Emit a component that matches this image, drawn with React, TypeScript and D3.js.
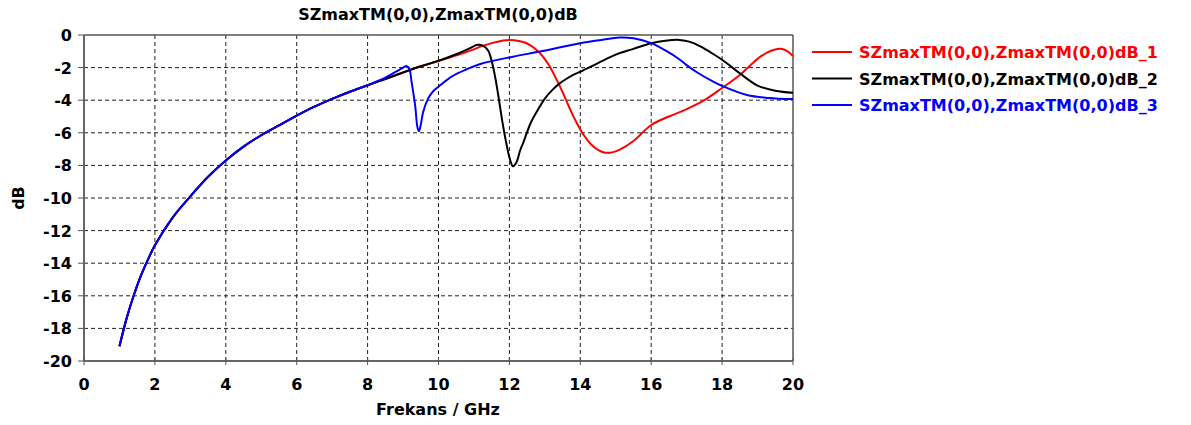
import React from 'react';
import * as d3 from 'd3';

// shared low-frequency part, all three traces sit on top of each other here
const baseFreq = [1.0, 1.2, 1.4, 1.6, 1.8, 2.0, 2.5, 3.0, 3.5, 4.0, 4.5, 5.0, 5.5, 6.0, 6.5, 7.0, 7.5, 8.0];
const baseDb = [-19.1, -17.4, -16.0, -14.8, -13.8, -12.9, -11.2, -9.9, -8.7, -7.7, -6.85, -6.15, -5.55, -4.95, -4.4, -3.92, -3.48, -3.08];

const freq1 = [8.5, 9.0, 9.5, 10.0, 10.5, 11.0, 11.2, 11.5, 11.8, 12.0, 12.3, 12.5, 12.7, 12.9, 13.1, 13.3, 13.5, 13.7, 13.9, 14.1, 14.3, 14.5, 14.7, 14.9, 15.1, 15.5, 16.0, 16.5, 17.0, 17.5, 18.0, 18.5, 18.8, 19.1, 19.4, 19.65, 19.85, 20.0];
const db1 = [-2.7, -2.3, -1.92, -1.6, -1.25, -0.88, -0.7, -0.5, -0.35, -0.3, -0.38, -0.52, -0.8, -1.2, -1.8, -2.6, -3.5, -4.5, -5.4, -6.15, -6.7, -7.05, -7.22, -7.2, -7.05, -6.5, -5.52, -5.0, -4.55, -4.0, -3.25, -2.45, -1.85, -1.3, -0.95, -0.85, -1.0, -1.3];

const freq2 = [8.5, 9.0, 9.5, 10.0, 10.5, 10.8, 11.0, 11.1, 11.25, 11.4, 11.5, 11.6, 11.7, 11.8, 11.9, 12.0, 12.1, 12.2, 12.3, 12.4, 12.6, 12.8, 13.0, 13.2, 13.4, 13.6, 13.8, 14.0, 14.5, 15.0, 15.5, 16.0, 16.4, 16.8, 17.1, 17.4, 17.7, 18.0, 18.5, 19.0, 19.5, 20.0];
const db2 = [-2.7, -2.3, -1.92, -1.58, -1.18, -0.9, -0.68, -0.6, -0.65, -0.95, -1.6, -2.6, -3.9, -5.3, -6.5, -7.5, -8.05, -7.8, -7.1, -6.55, -5.4, -4.6, -3.9, -3.4, -3.0, -2.7, -2.45, -2.25, -1.72, -1.2, -0.85, -0.51, -0.35, -0.3, -0.42, -0.72, -1.1, -1.52, -2.35, -3.1, -3.42, -3.55];

const freq3 = [8.5, 8.8, 9.0, 9.1, 9.18, 9.24, 9.34, 9.41, 9.45, 9.5, 9.57, 9.71, 9.85, 10.0, 10.37, 10.8, 11.2, 12.1, 12.9, 14.0, 14.6, 15.1, 15.5, 16.0, 16.4, 16.8, 17.0, 17.3, 17.7, 18.0, 18.7, 19.3, 20.0];
const db3 = [-2.62, -2.25, -2.0, -1.9, -2.1, -2.86, -4.3, -5.7, -5.9, -5.5, -4.7, -3.89, -3.45, -3.17, -2.55, -2.1, -1.76, -1.33, -1.0, -0.5, -0.3, -0.15, -0.2, -0.5, -0.95, -1.5, -1.85, -2.3, -2.8, -3.12, -3.68, -3.86, -3.93];

const seriesNames = ['SZmaxTM(0,0),ZmaxTM(0,0)dB_1', 'SZmaxTM(0,0),ZmaxTM(0,0)dB_2', 'SZmaxTM(0,0),ZmaxTM(0,0)dB_3'];
const seriesColors = ['#ff0000', '#000000', '#0000ff'];
const xTicks = [0, 2, 4, 6, 8, 10, 12, 14, 16, 18, 20];
const yTicks = [0, -2, -4, -6, -8, -10, -12, -14, -16, -18, -20];

const W = 1191;
const H = 425;
const left = 84, right = 793, top = 35, bottom = 361;
const font = '"DejaVu Sans", Verdana, sans-serif';

type Pt = { f: number; v: number };
const toPts = (fs: number[], vs: number[]): Pt[] => fs.map((f, i) => ({ f, v: vs[i] }));

const App: React.FC = () => {
  const x = d3.scaleLinear().domain([0, 20]).range([left, right]);
  const y = d3.scaleLinear().domain([-20, 0]).range([bottom, top]);

  const base = toPts(baseFreq, baseDb);
  const series = [
    base.concat(toPts(freq1, db1)),
    base.concat(toPts(freq2, db2)),
    base.concat(toPts(freq3, db3)),
  ];

  const line = d3.line<Pt>()
    .x(d => x(d.f))
    .y(d => y(d.v))
    .curve(d3.curveCatmullRom.alpha(0.5));

  return (
    <svg width={W} height={H} style={{ position: 'absolute', left: 0, top: 0, background: '#fff' }}
      fontFamily={font} fontWeight="bold">
      <defs>
        <clipPath id="plot">
          <rect x={left} y={top} width={right - left} height={bottom - top} />
        </clipPath>
      </defs>

      {/* grid */}
      {xTicks.slice(1, -1).map(t => (
        <line key={'gx' + t} x1={x(t)} x2={x(t)} y1={top} y2={bottom}
          stroke="#222" strokeWidth={1} strokeDasharray="4,3" />
      ))}
      {yTicks.slice(1, -1).map(t => (
        <line key={'gy' + t} x1={left} x2={right} y1={y(t)} y2={y(t)}
          stroke="#222" strokeWidth={1} strokeDasharray="4,3" />
      ))}

      {/* frame */}
      <line x1={left} x2={right} y1={top} y2={top} stroke="#555" strokeWidth={1.5} />
      <line x1={right} x2={right} y1={top} y2={bottom} stroke="#555" strokeWidth={1.5} />
      <line x1={left} x2={left} y1={top} y2={bottom} stroke="#666" strokeWidth={2} />
      <line x1={left} x2={right} y1={bottom} y2={bottom} stroke="#666" strokeWidth={2} />

      {/* ticks */}
      {xTicks.map(t => (
        <g key={'tx' + t}>
          <line x1={x(t)} x2={x(t)} y1={bottom - 3} y2={bottom + 4} stroke="#555" strokeWidth={1} />
          <text x={x(t)} y={390} textAnchor="middle" fontSize={16} fill="#000">{t}</text>
        </g>
      ))}
      {yTicks.map(t => (
        <g key={'ty' + t}>
          <line x1={left - 6} x2={left} y1={y(t)} y2={y(t)} stroke="#555" strokeWidth={1} />
          <text x={72} y={y(t) + 6} textAnchor="end" fontSize={16} fill="#000">{t}</text>
        </g>
      ))}

      {/* curves */}
      <g clipPath="url(#plot)">
        {series.map((s, i) => (
          <path key={'s' + i} d={line(s) || ''} fill="none" stroke={seriesColors[i]}
            strokeWidth={2} strokeLinejoin="round" />
        ))}
      </g>

      {/* titles */}
      <text x={438} y={20} textAnchor="middle" fontSize={16} fill="#000">SZmaxTM(0,0),ZmaxTM(0,0)dB</text>
      <text x={438} y={415} textAnchor="middle" fontSize={16} fill="#000">Frekans / GHz</text>
      <text transform={`translate(24,198) rotate(-90)`} textAnchor="middle" fontSize={16} fill="#000">dB</text>

      {/* legend */}
      {seriesNames.map((n, i) => {
        const ly = 52 + i * 26.5;
        return (
          <g key={'lg' + i}>
            <line x1={812} x2={852} y1={ly} y2={ly} stroke={seriesColors[i]} strokeWidth={2} />
            <text x={859} y={ly + 6} fontSize={16} fill={seriesColors[i]}>{n}</text>
          </g>
        );
      })}
    </svg>
  );
};

export default App;
